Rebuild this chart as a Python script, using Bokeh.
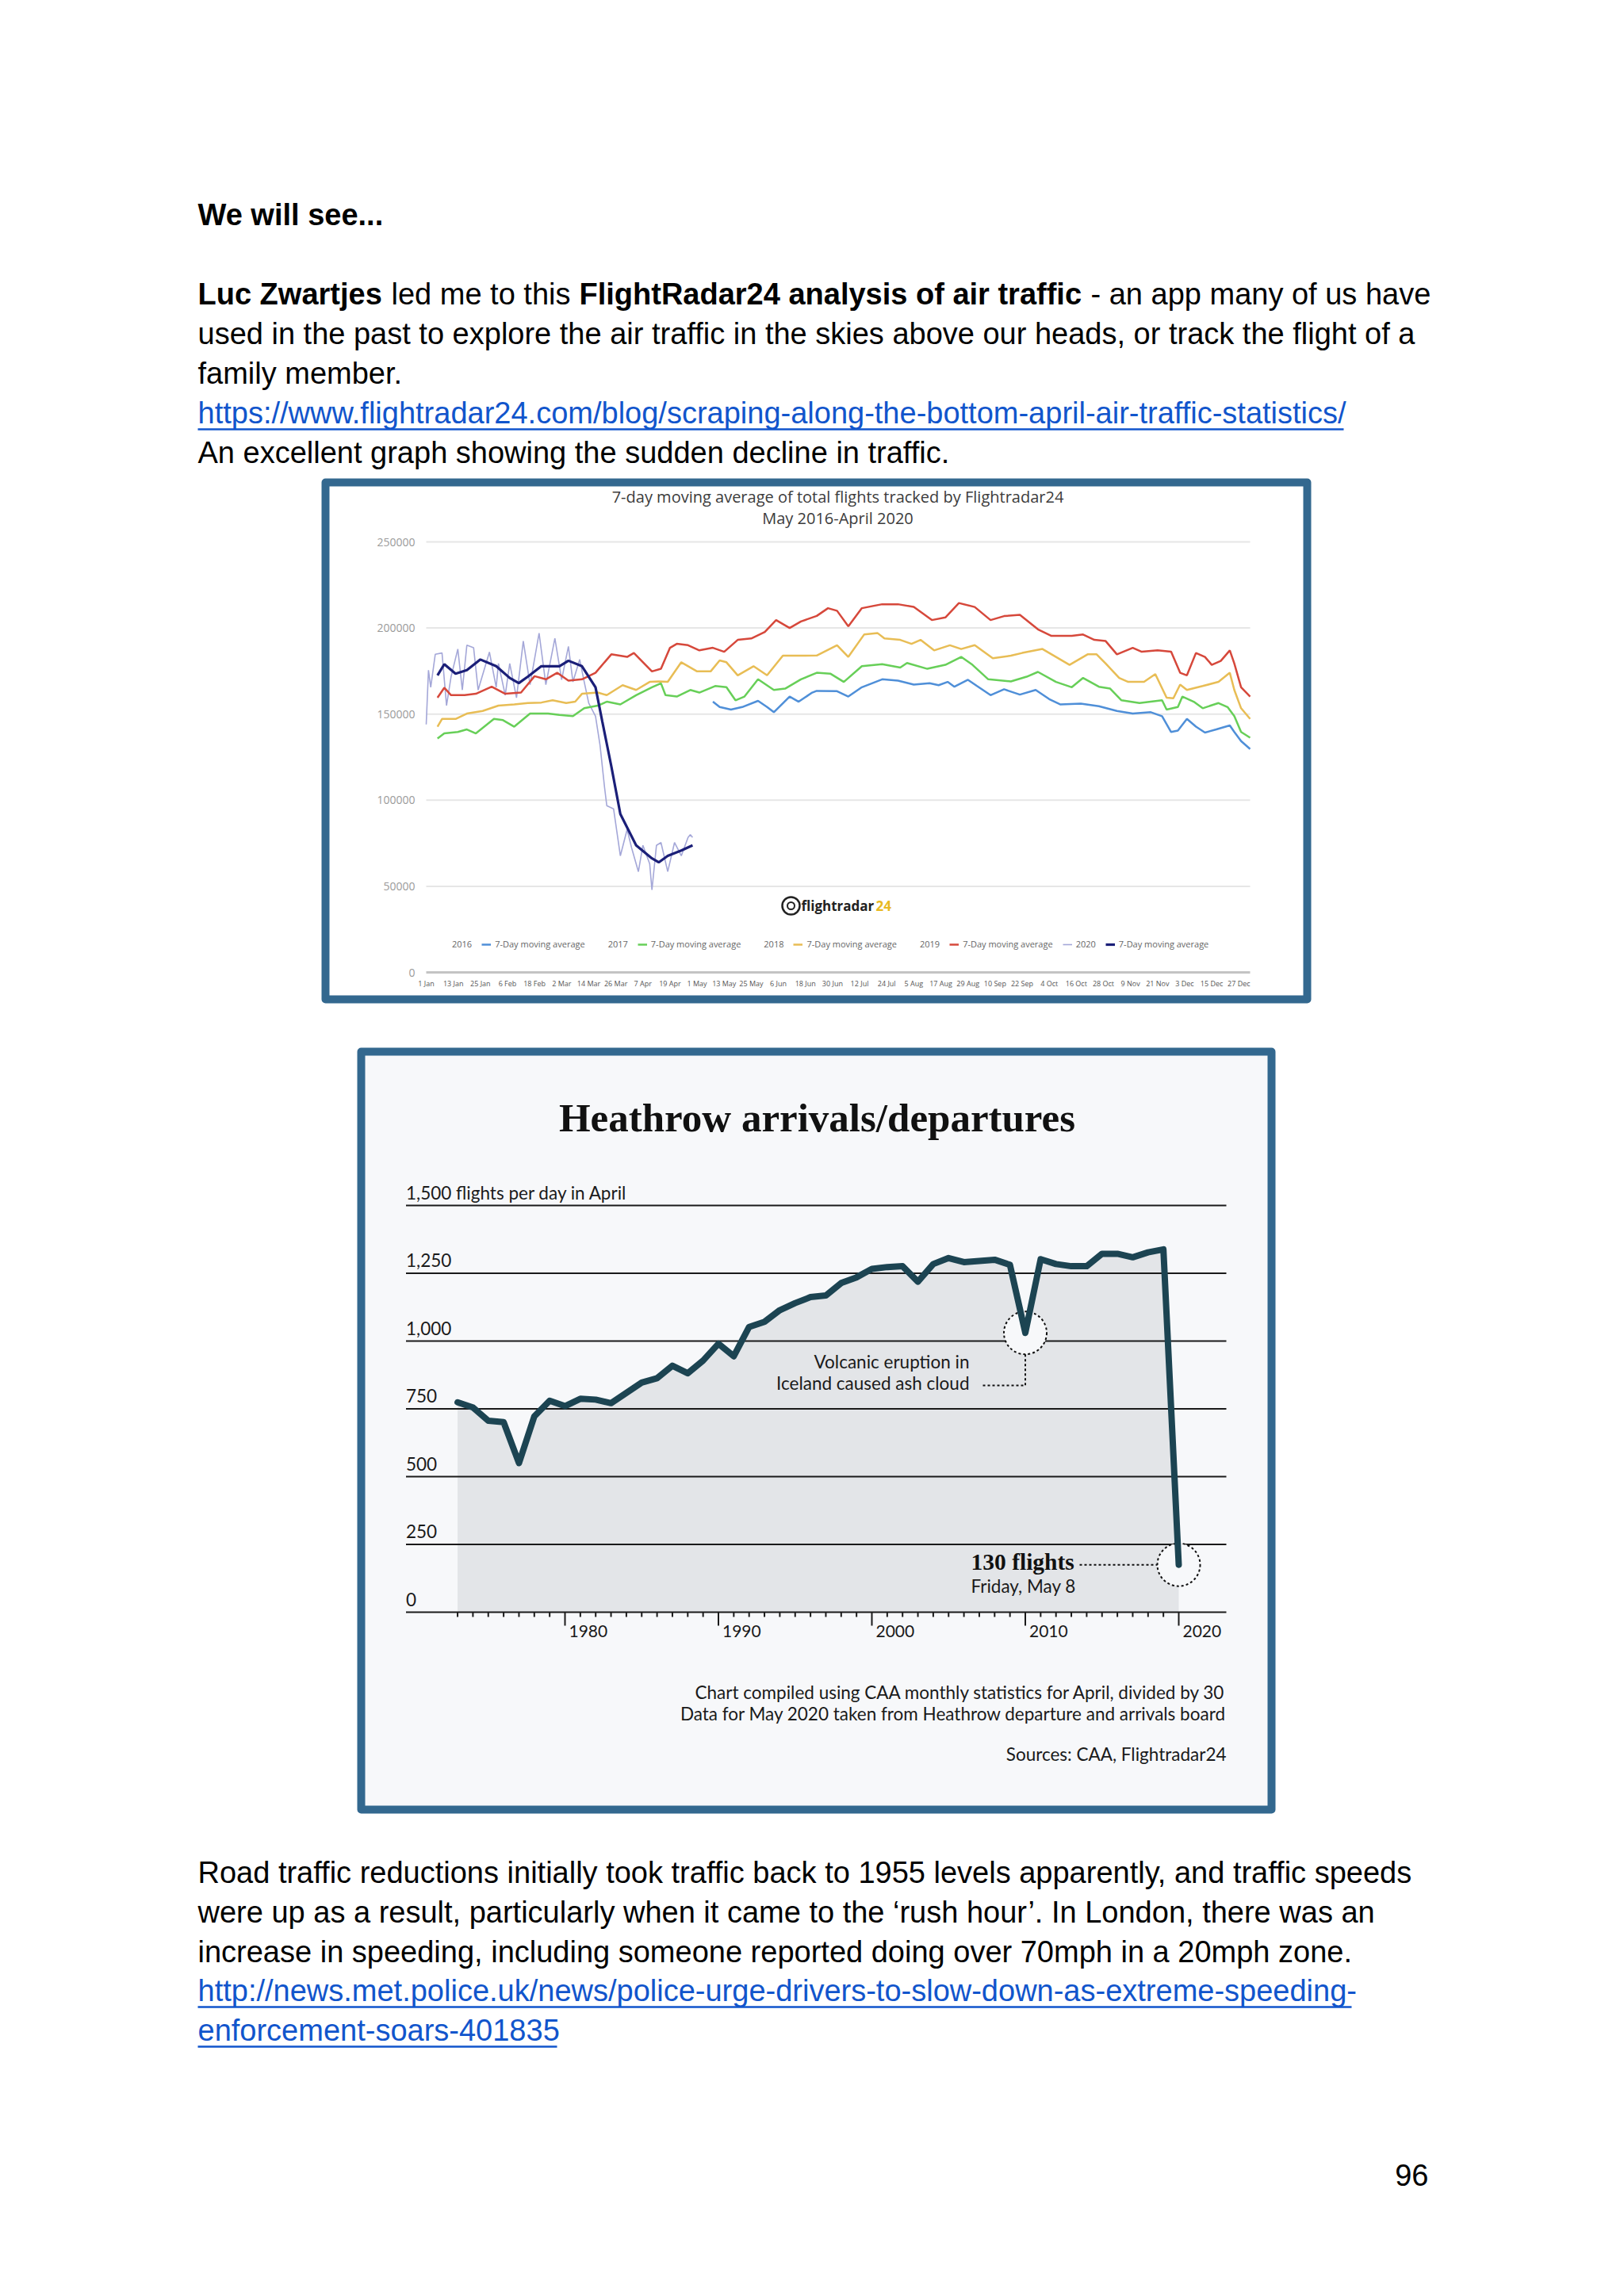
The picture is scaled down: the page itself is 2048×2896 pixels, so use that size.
from bokeh.plotting import figure
from bokeh.models import Range1d, Legend, LegendItem
from bokeh.layouts import column
from bokeh.core.properties import value
from bokeh.embed import file_html
from bokeh.resources import INLINE

# ------------------------------------------------------------------ data
# Chart 1: 7-day moving averages of flights tracked (day of year, flights)
MA2016_DAY = [127,130,135,140,147,151,154,161,165,171,173,182,187,193,202,209,216,223,227,231,234,240,244,250,256,263,270,276,281,290,298,306,313,321,326,330,333,337,341,345,350,356,358,361,365]
MA2016_VAL = [157200,154100,152600,154100,157700,154100,151100,160200,157200,162500,163500,163300,160200,165600,170200,169400,167100,167900,166800,168700,165900,169900,166300,161000,164400,161300,164000,158700,155600,156100,154600,151800,150300,151100,148800,139600,140400,147200,142700,139300,141100,143400,139600,134300,129700]
MA2017_DAY = [5,8,14,18,22,30,34,39,46,54,59,65,70,76,80,86,93,100,104,106,111,117,121,128,133,137,141,147,154,159,166,173,179,185,193,202,210,213,222,230,237,242,249,259,266,271,279,286,291,298,303,308,316,326,328,333,335,340,344,351,355,358,361,365]
MA2017_VAL = [135800,138800,139600,141100,138800,147200,146500,142700,150300,150300,149500,148800,153400,154900,157200,155600,161000,165600,167900,161000,160200,164000,162500,166300,165600,158000,160200,170200,164000,164800,170200,174000,173500,168700,177800,179000,177000,179700,176300,178600,183200,178600,170200,169000,171700,174500,168700,165600,171000,165900,164800,158000,156400,158000,152600,154100,160200,157200,153400,156400,154100,148800,139600,136300]
MA2018_DAY = [5,7,13,18,25,32,39,45,51,56,62,66,69,76,80,87,93,99,103,107,113,120,126,130,133,138,145,151,158,165,173,182,187,194,200,203,210,215,219,225,232,237,243,251,259,264,273,279,285,293,297,301,307,311,318,323,328,331,334,337,344,351,356,358,361,365]
MA2018_VAL = [142700,147200,147200,150300,151800,154900,155600,156400,156700,158000,156400,157200,161800,162500,161000,166800,164000,168700,169000,168700,180100,174800,174800,181200,180100,172500,177800,172500,183900,183900,184000,190000,183200,196200,197000,193900,193100,190800,193100,187000,190000,187800,190000,182400,183900,185500,187800,183200,178600,184700,184700,179400,171000,168700,168700,173200,159500,159200,167100,164000,166300,168700,174000,164000,153400,147200]
MA2019_DAY = [5,8,11,17,22,29,35,42,48,53,58,63,69,75,82,89,92,100,104,108,111,116,121,127,132,138,144,150,155,161,166,173,178,182,187,193,202,209,216,224,230,236,243,250,256,263,271,277,286,291,296,301,306,313,317,324,330,334,337,341,345,348,352,356,358,361,365]
MA2019_VAL = [159500,165300,161000,161000,161800,165900,161800,162500,172000,170200,174000,169400,170200,174000,184700,183200,185500,174800,176300,188500,190800,190000,187000,188500,186200,193100,193900,197700,204600,200000,203800,207000,211500,210000,201000,211500,213800,213800,212200,204600,206100,214500,212200,204600,206900,207600,199200,195400,195400,196200,193100,192400,184700,188500,186200,187000,186200,174000,172500,185500,183200,178600,180900,187000,179400,165600,160200]
MA2020_DAY = [5,8,13,18,24,31,37,41,45,51,59,63,69,75,78,82,86,93,100,103,107,113,118]
MA2020_VAL = [172500,179000,173500,175500,181700,177800,171000,168000,171700,177800,177800,181000,177800,165600,145700,119700,92000,73800,66200,63900,67700,70800,73800]
DAILY2020_DAY = [0,1,2,4,7,9,11,14,16,18,21,23,28,31,32,35,37,40,43,46,50,53,57,60,63,65,68,70,72,75,77,79,80,83,86,89,91,94,96,99,100,102,104,107,110,113,116,117,118]
DAILY2020_VAL = [144000,175500,165600,184700,185500,155000,171700,187800,164000,190000,188500,164000,186000,165600,179400,161000,179400,159500,192400,167100,197000,167100,194000,170000,189300,168700,181700,168700,156400,148800,132000,107500,96800,95000,67700,83000,72300,58500,73800,63100,47900,73800,75400,58500,75400,67700,78400,80000,78400]
C1_YTICKS = [0, 50000, 100000, 150000, 200000, 250000]
C1_YLABELS = ["0", "50000", "100000", "150000", "200000", "250000"]
C1_XTICKS = list(range(0, 361, 12))
C1_XLABELS = ["1 Jan", "13 Jan", "25 Jan", "6 Feb", "18 Feb", "2 Mar", "14 Mar", "26 Mar", "7 Apr", "19 Apr",
              "1 May", "13 May", "25 May", "6 Jun", "18 Jun", "30 Jun", "12 Jul", "24 Jul", "5 Aug", "17 Aug",
              "29 Aug", "10 Sep", "22 Sep", "4 Oct", "16 Oct", "28 Oct", "9 Nov", "21 Nov", "3 Dec", "15 Dec", "27 Dec"]
C1_YEARS = ["2016", "2017", "2018", "2019", "2020"]

# Chart 2: Heathrow flights per day in April
HEATHROW_YEARS = [1973,1974,1975,1976,1977,1978,1979,1980,1981,1982,1983,1984,1985,1986,1987,1988,1989,1990,
                  1991,1992,1993,1994,1995,1996,1997,1998,1999,2000,2001,2002,2003,2004,2005,2006,2007,2008,
                  2009,2010,2011,2012,2013,2014,2015,2016,2017,2018,2019,2020]
HEATHROW_FLIGHTS = [774,755,706,701,550,722,780,760,787,784,771,809,847,863,909,881,928,990,
                    944,1052,1071,1114,1140,1162,1168,1214,1235,1266,1273,1276,1219,1284,1306,1291,1295,1300,
                    1281,1030,1302,1284,1276,1276,1322,1322,1309,1327,1338,175]
C2_YTICKS = [0, 250, 500, 750, 1000, 1250, 1500]
C2_YLABELS = ["0", "250", "500", "750", "1,000", "1,250", "1,500 flights per day in April"]
C2_DECADES = [1980, 1990, 2000, 2010, 2020]
C2_DECADE_LABELS = ["1980", "1990", "2000", "2010", "2020"]
C2_VOLCANO_YEAR = 2010
C2_LAST_YEAR = 2020

# ------------------------------------------------------------------ styles / layout
BODY_FONT = "Liberation Sans"
BODY_PX = 38
LINK = "#1155cc"
BORDER = "#33688f"
W = 2032
MID = 0.36   # anchor ("middle") sits this many em above the baseline

TOP_TEXT = [  # x, baseline y (page px), text, bold, colour
    (249, 284, "We will see...", True, "black"),
    (249, 384, "Luc Zwartjes", True, "black"),
    (493, 384, "led me to this", False, "black"),
    (730, 384, "FlightRadar24 analysis of air traffic", True, "black"),
    (1375, 384, "- an app many of us have", False, "black"),
    (249, 434, "used in the past to explore the air traffic in the skies above our heads, or track the flight of a", False, "black"),
    (249, 484, "family member.", False, "black"),
    (249, 534, "https://www.flightradar24.com/blog/scraping-along-the-bottom-april-air-traffic-statistics/", False, LINK),
    (249, 584, "An excellent graph showing the sudden decline in traffic.", False, "black"),
]
TOP_UNDER = [(249, 1694, 541)]
BOT_TEXT = [
    (249, 2375, "Road traffic reductions initially took traffic back to 1955 levels apparently, and traffic speeds", False, "black"),
    (249, 2425, "were up as a result, particularly when it came to the \u2018rush hour\u2019. In London, there was an", False, "black"),
    (249, 2475, "increase in speeding, including someone reported doing over 70mph in a 20mph zone.", False, "black"),
    (249, 2524, "http://news.met.police.uk/news/police-urge-drivers-to-slow-down-as-extreme-speeding-", False, LINK),
    (249, 2574, "enforcement-soars-401835", False, LINK),
]
BOT_UNDER = [(249, 1704, 2531), (249, 702, 2581)]

ROWS = (0, 600, 1300, 2320, 2880)   # page rows of the four stacked figures


def base_fig(height, xr, yr):
    f = figure(width=W, height=height, x_range=xr, y_range=yr,
               output_backend="svg", toolbar_location=None, min_border=0,
               x_axis_location=None, y_axis_location=None, title=None)
    f.grid.visible = False
    f.outline_line_color = None
    f.background_fill_color = "white"
    f.border_fill_color = "white"
    return f


def page_fig(y0, y1, lines, unders):
    f = base_fig(y1 - y0, Range1d(0, W), Range1d(y1, y0))
    for x, y, t, b, c in lines:
        f.text(x=[x], y=[y - MID * BODY_PX], text=[t], text_font=value(BODY_FONT),
               text_font_size=f"{BODY_PX}px", text_font_style=value("bold" if b else "normal"),
               text_color=c, text_align="left", text_baseline="middle")
    for x0, x1, y in unders:
        f.segment(x0=[x0], x1=[x1], y0=[y], y1=[y], line_color=LINK, line_width=2.5)
    return f


top = page_fig(ROWS[0], ROWS[1], TOP_TEXT, TOP_UNDER)
bottom = page_fig(ROWS[3], ROWS[4], BOT_TEXT, BOT_UNDER)
bottom.text(x=[1801], y=[2757 - MID * BODY_PX], text=["96"], text_font=value(BODY_FONT),
            text_font_size=f"{BODY_PX}px", text_color="black", text_align="right", text_baseline="middle")

# ------------------------------------------------------------------ chart 1
C1_TOP, C1_BOT = ROWS[1], ROWS[2]
C1_X0, C1_X365 = 537.0, 1576.0       # page px of day 0 / day 365
C1_Y0, C1_Y250K = 1226.0, 683.0      # page px of value 0 / 250000
C1_BOX = (410, 1648, 608, 1260)      # border centre line: left, right, top, bottom


def c1x(px):
    return (px - C1_X0) * 365.0 / (C1_X365 - C1_X0)


def c1y(py):
    return (C1_Y0 - py) * 250000.0 / (C1_Y0 - C1_Y250K)


p1 = base_fig(C1_BOT - C1_TOP, Range1d(c1x(0), c1x(W)), Range1d(c1y(C1_BOT), c1y(C1_TOP)))
p1.quad(left=[c1x(C1_BOX[0])], right=[c1x(C1_BOX[1])], top=[c1y(C1_BOX[2])], bottom=[c1y(C1_BOX[3])],
        fill_color="white", line_color=BORDER, line_width=10, line_join="round")

grid_vals = [v for v in C1_YTICKS if v > 0]
p1.segment(x0=[0] * len(grid_vals), x1=[365] * len(grid_vals), y0=grid_vals, y1=grid_vals,
           line_color="#e6e6e6", line_width=2)
p1.segment(x0=[0], x1=[365], y0=[C1_YTICKS[0]], y1=[C1_YTICKS[0]], line_color="#c4c4c4", line_width=3)
p1.text(x=[c1x(523)] * len(C1_YTICKS), y=C1_YTICKS, text=C1_YLABELS, text_font=value("Open Sans"),
        text_font_size="14px", text_color="#9a9a9a", text_align="right", text_baseline="middle")
p1.text(x=C1_XTICKS, y=[c1y(1240)] * len(C1_XTICKS), text=C1_XLABELS, text_font=value("Open Sans"),
        text_font_size="9px", text_color="#555555", text_align="center", text_baseline="middle")
p1.text(x=[c1x(1056)] * 2, y=[c1y(626), c1y(653)],
        text=["7-day moving average of total flights tracked by Flightradar24", "May 2016-April 2020"],
        text_font=value("Open Sans"), text_font_size="20px", text_color="#3c3c3c",
        text_align="center", text_baseline="middle")
# logo
p1.scatter(x=[c1x(997)], y=[c1y(1142)], size=22, marker="circle", fill_color=None,
           line_color="#222222", line_width=2.5)
p1.scatter(x=[c1x(997)], y=[c1y(1142)], size=9, marker="circle", fill_color=None,
           line_color="#222222", line_width=2)
p1.text(x=[c1x(1010)], y=[c1y(1142)], text=["flightradar"], text_font=value("Open Sans"),
        text_font_size="17px", text_font_style=value("bold"), text_color="#222222",
        text_align="left", text_baseline="middle")
p1.text(x=[c1x(1104)], y=[c1y(1142)], text=["24"], text_font=value("Open Sans"),
        text_font_size="17px", text_font_style=value("bold"), text_color="#e8b923",
        text_align="left", text_baseline="middle")

DAILY_COLORS = ["#c8daf0", "#cdeec6", "#f4e4b8", "#f2c9c4", "#a4a7d8"]
MA_COLORS = ["#4f8fd8", "#67cf58", "#e8bd55", "#d6483b", "#1b1f78"]

r_daily20 = p1.line(DAILY2020_DAY, DAILY2020_VAL, line_color=DAILY_COLORS[4], line_width=1.6)
r_d16 = p1.line([], [], line_color=DAILY_COLORS[0], line_width=2)
r_d17 = p1.line([], [], line_color=DAILY_COLORS[1], line_width=2)
r_d18 = p1.line([], [], line_color=DAILY_COLORS[2], line_width=2)
r_d19 = p1.line([], [], line_color=DAILY_COLORS[3], line_width=2)
r16 = p1.line(MA2016_DAY, MA2016_VAL, line_color=MA_COLORS[0], line_width=2.5)
r17 = p1.line(MA2017_DAY, MA2017_VAL, line_color=MA_COLORS[1], line_width=2.5)
r18 = p1.line(MA2018_DAY, MA2018_VAL, line_color=MA_COLORS[2], line_width=2.5)
r19 = p1.line(MA2019_DAY, MA2019_VAL, line_color=MA_COLORS[3], line_width=2.5)
r20 = p1.line(MA2020_DAY, MA2020_VAL, line_color=MA_COLORS[4], line_width=3.2)

items = []
for yr, rd, rm in zip(C1_YEARS, [r_d16, r_d17, r_d18, r_d19, r_daily20], [r16, r17, r18, r19, r20]):
    items.append(LegendItem(label=yr, renderers=[rd]))
    items.append(LegendItem(label="7-Day moving average", renderers=[rm]))
legend = Legend(items=items, orientation="horizontal", location=(553, C1_BOT - 1191 - 7),
                glyph_width=12, glyph_height=12, label_standoff=5, spacing=12,
                padding=0, margin=0, border_line_color=None, background_fill_alpha=0,
                label_text_font="Open Sans", label_text_font_size="11px",
                label_text_color="#666666", label_height=12)
p1.add_layout(legend)

# ------------------------------------------------------------------ chart 2
C2_TOP, C2_BOT = ROWS[2], ROWS[3]
C2_X1980, C2_PXYR = 712.0, 19.35
C2_Y0, C2_Y1500 = 2033.0, 1520.0
C2_BOX = (455, 1603, 1326, 2282)


def c2x(px):
    return 1980 + (px - C2_X1980) / C2_PXYR


def c2y(py):
    return (C2_Y0 - py) * 1500.0 / (C2_Y0 - C2_Y1500)


UNIT_PER_PX = 1500.0 / (C2_Y0 - C2_Y1500)

p2 = base_fig(C2_BOT - C2_TOP, Range1d(c2x(0), c2x(W)), Range1d(c2y(C2_BOT), c2y(C2_TOP)))
p2.quad(left=[c2x(C2_BOX[0])], right=[c2x(C2_BOX[1])], top=[c2y(C2_BOX[2])], bottom=[c2y(C2_BOX[3])],
        fill_color="#f7f8fa", line_color=BORDER, line_width=10, line_join="round")

TXT = "#1a1a1a"
LATO = value("Lato")
SERIF = value("Liberation Serif")
LATO_PX = 22.5

p2.varea(x=HEATHROW_YEARS, y1=[0] * len(HEATHROW_YEARS), y2=HEATHROW_FLIGHTS, fill_color="#e3e5e8")
gx0, gx1 = c2x(511.5), c2x(1546)
p2.segment(x0=[gx0] * len(C2_YTICKS), x1=[gx1] * len(C2_YTICKS), y0=C2_YTICKS, y1=C2_YTICKS,
           line_color="#1a1a1a", line_width=2)
p2.text(x=[gx0] * len(C2_YTICKS), y=C2_YTICKS, y_offset=-(8 + MID * LATO_PX), text=C2_YLABELS, text_font=LATO,
        text_font_size=f"{LATO_PX}px", text_color=TXT, text_align="left", text_baseline="middle")
minor = [y for y in HEATHROW_YEARS if y not in C2_DECADES]
p2.segment(x0=minor, x1=minor, y0=[0] * len(minor), y1=[-6 * UNIT_PER_PX] * len(minor),
           line_color="#1a1a1a", line_width=2)
p2.segment(x0=C2_DECADES, x1=C2_DECADES, y0=[0] * len(C2_DECADES), y1=[-17 * UNIT_PER_PX] * len(C2_DECADES),
           line_color="#1a1a1a", line_width=2)
p2.text(x=C2_DECADES, y=[0] * len(C2_DECADES), x_offset=5, y_offset=32 - MID * 21, text=C2_DECADE_LABELS,
        text_font=LATO, text_font_size="21px", text_color=TXT, text_align="left", text_baseline="middle")

iv = HEATHROW_YEARS.index(C2_VOLCANO_YEAR)
il = HEATHROW_YEARS.index(C2_LAST_YEAR)
p2.scatter(x=[HEATHROW_YEARS[iv], HEATHROW_YEARS[il]], y=[HEATHROW_FLIGHTS[iv], HEATHROW_FLIGHTS[il]],
           size=54, marker="circle", fill_color="#f7f8fa", line_color="#111111", line_width=2,
           line_dash="3 3")
vy = HEATHROW_FLIGHTS[iv] - 27 * UNIT_PER_PX
hy = c2y(1747)
p2.segment(x0=[HEATHROW_YEARS[iv], c2x(1239)], x1=[HEATHROW_YEARS[iv], HEATHROW_YEARS[iv]],
           y0=[vy, hy], y1=[hy, hy], line_color="#111111", line_width=2, line_dash="3 3")
p2.segment(x0=[c2x(1361)], x1=[HEATHROW_YEARS[il] - 27 / C2_PXYR],
           y0=[HEATHROW_FLIGHTS[il]], y1=[HEATHROW_FLIGHTS[il]],
           line_color="#111111", line_width=2, line_dash="3 3")

p2.line(HEATHROW_YEARS, HEATHROW_FLIGHTS, line_color="#1c4452", line_width=8,
        line_join="round", line_cap="round")


def c2text(xpx, base_py, txt, font, px, align, bold=False):
    p2.text(x=[c2x(xpx)], y=[c2y(base_py - MID * px)], text=[txt], text_font=font,
            text_font_size=f"{px}px", text_font_style=value("bold" if bold else "normal"),
            text_color="#111111" if bold else TXT, text_align=align, text_baseline="middle")


c2text(1030, 1428, "Heathrow arrivals/departures", SERIF, 51, "center", True)
c2text(1222, 1725, "Volcanic eruption in", LATO, LATO_PX, "right")
c2text(1222, 1752, "Iceland caused ash cloud", LATO, LATO_PX, "right")
c2text(1224, 1980, "130 flights", SERIF, 29.5, "left", True)
c2text(1224, 2008, "Friday, May 8", LATO, LATO_PX, "left")
c2text(1546, 2142, "Chart compiled using CAA monthly statistics for April, divided by 30", LATO, LATO_PX, "right")
c2text(1546, 2169, "Data for May 2020 taken from Heathrow departure and arrivals board", LATO, LATO_PX, "right")
c2text(1546, 2220, "Sources: CAA, Flightradar24", LATO, LATO_PX, "right")

page = column(top, p1, p2, bottom, spacing=0)
open("out.html", "w").write(file_html(page, INLINE))
